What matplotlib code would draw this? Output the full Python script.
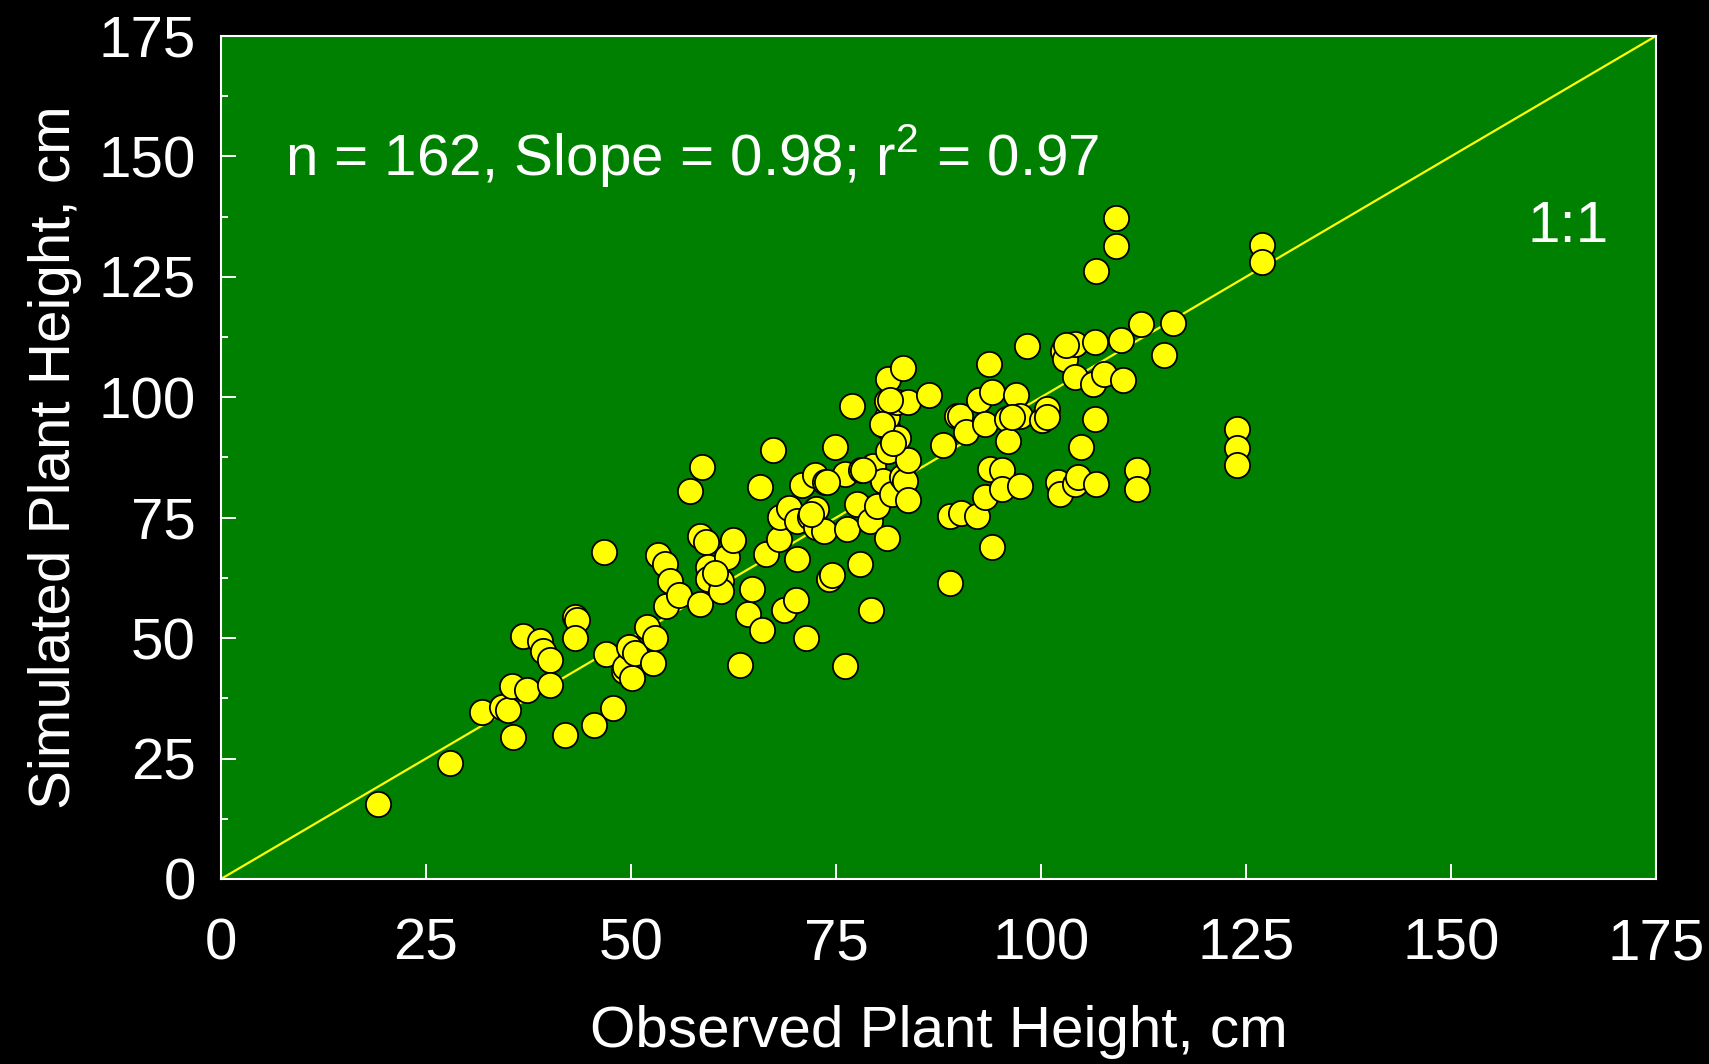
import matplotlib
matplotlib.use("Agg")
import matplotlib.pyplot as plt
import numpy as np

# observed vs simulated plant height (cm)
observed = [
    19.1, 27.9, 31.8, 34.3, 35.0, 35.6, 35.5, 36.8, 37.3, 38.9,
    39.3, 40.1, 40.1, 41.9, 43.2, 43.4, 43.2, 45.5, 46.7, 46.9,
    47.8, 49.1, 49.3, 49.7, 50.1, 50.5, 51.9, 52.7, 52.9, 53.3,
    54.1, 54.3, 54.8, 55.8, 57.2, 58.4, 58.4, 58.7, 59.2, 59.4,
    59.4, 61.0, 61.0, 61.7, 62.5, 63.3, 64.3, 64.7, 65.7, 66.0,
    66.5, 67.3, 68.0, 68.2, 68.6, 69.3, 70.1, 70.3, 70.3, 70.8,
    71.3, 71.8, 72.4, 72.6, 72.6, 73.5, 73.7, 74.1, 74.5, 74.9,
    76.1, 76.1, 76.3, 76.9, 77.6, 77.9, 78.1, 79.1, 79.5, 79.3,
    80.0, 80.7, 81.2, 81.2, 81.2, 81.2, 81.4, 81.4, 81.8, 82.4,
    82.6, 83.0, 83.2, 83.4, 83.8, 83.8, 83.8, 86.4, 88.1, 88.9,
    88.9, 89.7, 90.1, 90.3, 90.9, 92.2, 92.4, 93.2, 93.2, 93.7,
    93.8, 94.0, 94.0, 95.2, 95.3, 95.8, 96.0, 97.0, 97.4, 97.4,
    98.3, 100.1, 100.7, 100.7, 102.1, 102.3, 102.7, 102.9, 104.1, 104.1,
    104.1, 104.5, 104.9, 106.3, 106.6, 106.7, 106.6, 106.7, 107.7, 109.2,
    109.2, 109.7, 110.0, 111.7, 111.7, 112.2, 115.0, 116.1, 123.9, 123.9,
    123.9, 127.0, 127.0,
    103.1, 73.9, 78.3, 81.6, 80.6, 82.0, 72.0, 60.2, 96.5,
]
simulated = [
    15.5, 24.0, 34.7, 35.6, 35.0, 29.4, 40.1, 50.5, 39.2, 49.3,
    47.4, 45.5, 40.2, 29.8, 54.3, 53.8, 50.1, 31.9, 67.8, 46.8,
    35.5, 43.2, 43.9, 48.1, 41.8, 47.0, 52.4, 44.9, 50.1, 67.3,
    65.3, 56.6, 61.9, 59.0, 80.5, 71.1, 57.0, 85.6, 69.9, 64.7,
    62.3, 61.9, 59.7, 66.8, 70.4, 44.4, 55.0, 60.2, 81.3, 51.7,
    67.5, 89.0, 70.6, 75.1, 55.8, 77.0, 57.9, 66.4, 74.4, 81.7,
    50.1, 75.1, 83.8, 76.8, 73.0, 72.3, 82.5, 62.3, 63.0, 89.6,
    84.1, 44.3, 72.7, 98.1, 77.9, 65.4, 84.8, 74.4, 85.8, 55.9,
    77.5, 82.7, 70.8, 93.8, 95.9, 99.2, 103.8, 88.9, 80.0, 99.0,
    91.6, 83.4, 106.1, 82.7, 99.0, 87.0, 78.6, 100.4, 90.0, 61.4,
    75.4, 96.2, 96.2, 75.9, 92.8, 75.4, 99.4, 94.5, 79.2, 106.8,
    85.1, 101.1, 69.0, 84.9, 81.0, 95.5, 91.0, 100.4, 96.2, 81.5,
    110.6, 95.2, 97.6, 95.9, 82.4, 79.9, 109.7, 108.0, 111.1, 104.3,
    82.0, 83.4, 89.6, 102.8, 111.5, 126.2, 95.5, 82.0, 104.8, 137.2,
    131.4, 111.8, 103.6, 84.9, 81.0, 115.2, 108.7, 115.4, 93.4, 89.4,
    86.0, 131.7, 128.1,
    110.9, 82.4, 84.8, 99.5, 94.4, 90.5, 75.8, 63.5, 95.8,
]
axis_ticks = [0, 25, 50, 75, 100, 125, 150, 175]
stats_text = "n = 162, Slope = 0.98; r$^2$ = 0.97"

plt.rcParams["font.family"] = ["Liberation Sans", "DejaVu Sans"]
plt.rcParams["mathtext.fontset"] = "custom"
plt.rcParams["mathtext.rm"] = "Liberation Sans"

fig = plt.figure(figsize=(17.09, 10.64), dpi=100, facecolor="black")
ax = fig.add_axes([0.1293, 0.1739, 0.8397, 0.7923])
ax.set_facecolor("#008000")

ax.plot([0, 175], [0, 175], color="yellow", linewidth=1.6, zorder=2)
ax.scatter(observed, simulated, s=330, facecolor="yellow",
           edgecolor="black", linewidth=1.3, zorder=3)

ax.set_xlim(0, 175)
ax.set_ylim(0, 175)
ax.set_xticks(axis_ticks)
ax.set_yticks(axis_ticks)
# minor ticks only on the y axis
ax.set_yticks(np.arange(12.5, 175, 25), minor=True)
ax.tick_params(which="major", direction="in", length=11, width=1.4,
               color="white", labelcolor="white", labelsize=42)
ax.tick_params(which="minor", direction="in", length=5, width=1.4,
               color="white")
ax.tick_params(axis="x", which="major", pad=28)
ax.tick_params(axis="y", which="major", pad=18)
for sp in ax.spines.values():
    sp.set_color("white")
    sp.set_linewidth(1.5)

ax.set_xlabel("Observed Plant Height, cm", color="white", fontsize=42,
              labelpad=24)
ax.set_ylabel("Simulated Plant Height, cm", color="white", fontsize=42,
              labelpad=12)

ax.text(7.8, 150, stats_text, color="white", fontsize=42,
        ha="left", va="center")
ax.text(169.2, 135.4, "1:1", color="white", fontsize=42,
        ha="right", va="center")

fig.savefig("out.png", dpi=100, facecolor="black")
